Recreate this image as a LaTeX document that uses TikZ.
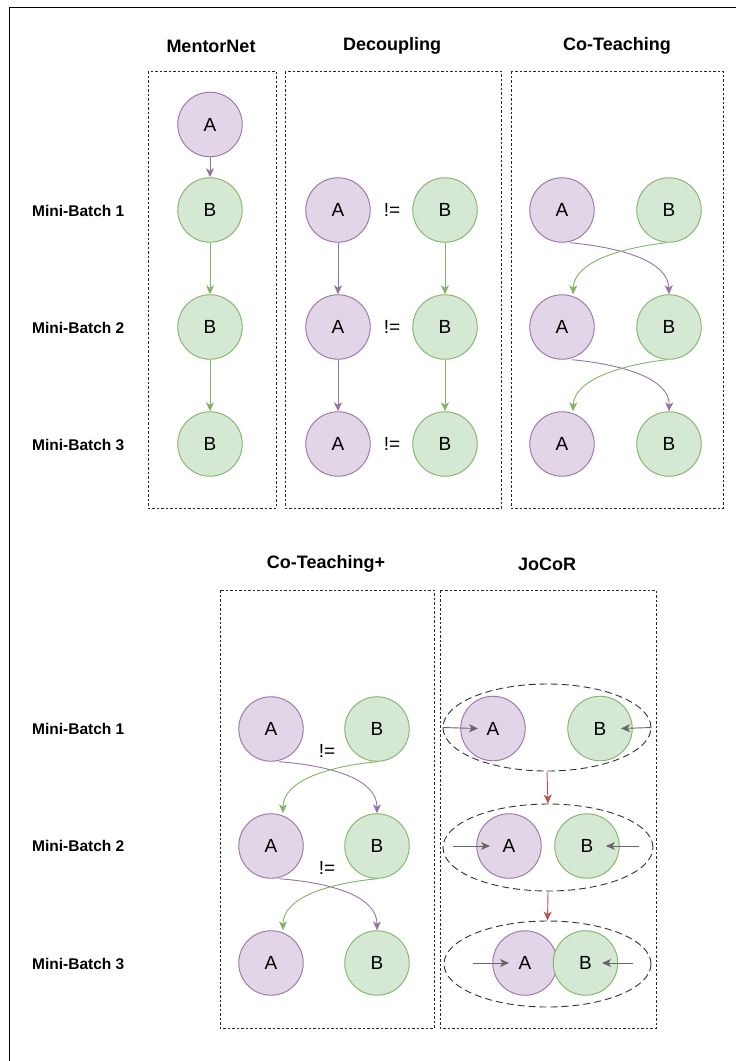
\documentclass[tikz,border=0pt]{standalone}
\usepackage{fontspec}
\setmainfont{Liberation Sans}
\usetikzlibrary{arrows.meta,shapes.geometric}
\definecolor{pfill}{HTML}{E1D5E7}
\definecolor{pline}{HTML}{9673A6}
\definecolor{gfill}{HTML}{D5E8D4}
\definecolor{gline}{HTML}{82B366}
\definecolor{redline}{HTML}{B85450}
\definecolor{grayline}{HTML}{666666}
\tikzset{
  nA/.style={circle, draw=pline, fill=pfill, line width=0.9pt, minimum size=64.5pt, inner sep=0pt, font=\fontsize{19}{21}\selectfont},
  nB/.style={circle, draw=gline, fill=gfill, line width=0.9pt, minimum size=64.5pt, inner sep=0pt, font=\fontsize{19}{21}\selectfont},
  groupbox/.style={draw=black!85, line width=0.8pt, dash pattern=on 2.5pt off 2pt},
  title/.style={font=\fontsize{18}{20}\selectfont\bfseries},
  rowlab/.style={font=\fontsize{15.5}{18}\selectfont\bfseries, anchor=west, inner sep=0pt},
  neq/.style={font=\fontsize{19}{21}\selectfont, inner sep=0pt},
  tip/.style={-{Stealth[length=9pt,width=8pt,inset=2.5pt]}},
  parr/.style={draw=pline, line width=0.9pt, tip},
  garr/.style={draw=gline, line width=0.9pt, tip},
  rarr/.style={draw=redline, line width=0.9pt, tip},
  karr/.style={draw=grayline, line width=0.9pt, tip},
  pair/.style={ellipse, draw=black!80, line width=0.9pt, dash pattern=on 7pt off 4pt, inner sep=0pt},
}
\begin{document}
\begin{tikzpicture}[x=1pt,y=-1pt]
\useasboundingbox (0,0) rectangle (736,1061);
% outer frame (only top and left visible)
\draw[line width=1.3pt] (736,7.5) -- (9.5,7.5) -- (9.5,1061);

% group boxes
\draw[groupbox] (148,71) rectangle (276,508);
\draw[groupbox] (285,71) rectangle (501,508);
\draw[groupbox] (511,71) rectangle (723,508);
\draw[groupbox] (220,590) rectangle (434,1028);
\draw[groupbox] (440,590) rectangle (656,1028);

% titles
\node[title] (tMentor) at (211,46) {MentorNet};
\node[title] (tDec) at (392,46) {Decoupling};
\node[title] (tCo) at (617,46) {Co-Teaching};
\node[title] (tCoP) at (326,564) {Co-Teaching+};
\node[title] (tJo) at (547,564) {JoCoR};

% row labels
\node[rowlab] (l1) at (32,211) {Mini-Batch 1};
\node[rowlab] (l2) at (32,328) {Mini-Batch 2};
\node[rowlab] (l3) at (32,445) {Mini-Batch 3};
\node[rowlab] (l4) at (32,729) {Mini-Batch 1};
\node[rowlab] (l5) at (32,846) {Mini-Batch 2};
\node[rowlab] (l6) at (32,964) {Mini-Batch 3};

% MentorNet
\node[nA] (mA) at (210,124.5) {A};
\node[nB] (mB1) at (210,210) {B};
\node[nB] (mB2) at (210,327) {B};
\node[nB] (mB3) at (210,444) {B};
\draw[parr] (mA) -- (mB1);
\draw[garr] (mB1) -- (mB2);
\draw[garr] (mB2) -- (mB3);

% Decoupling
\node[nA] (dA1) at (338,210) {A};
\node[nA] (dA2) at (338,327) {A};
\node[nA] (dA3) at (338,444) {A};
\node[nB] (dB1) at (445,210) {B};
\node[nB] (dB2) at (445,327) {B};
\node[nB] (dB3) at (445,444) {B};
\node[neq] (dn1) at (392,210) {!=};
\node[neq] (dn2) at (392,327) {!=};
\node[neq] (dn3) at (392,444) {!=};
\draw[parr] (dA1) -- (dA2);
\draw[parr] (dA2) -- (dA3);
\draw[garr] (dB1) -- (dB2);
\draw[garr] (dB2) -- (dB3);

% Co-Teaching
\node[nA] (cA1) at (562,210) {A};
\node[nA] (cA2) at (562,327) {A};
\node[nA] (cA3) at (562,444) {A};
\node[nB] (cB1) at (669,210) {B};
\node[nB] (cB2) at (669,327) {B};
\node[nB] (cB3) at (669,444) {B};
\draw[parr] ([xshift=8pt]cA1.south) .. controls (625,248) and (668,262) .. (cB2.north);
\draw[garr] ([xshift=-2pt]cB1.south) .. controls (620,248) and (574,262) .. ([xshift=11pt]cA2.north);
\draw[parr] ([xshift=10pt]cA2.south) .. controls (627,365) and (670,380) .. (cB3.north);
\draw[garr] ([xshift=-2pt]cB2.south) .. controls (620,365) and (574,380) .. ([xshift=11pt]cA3.north);

% Co-Teaching+
\node[nA] (pA1) at (271,729) {A};
\node[nA] (pA2) at (271,846) {A};
\node[nA] (pA3) at (271,963) {A};
\node[nB] (pB1) at (377,729) {B};
\node[nB] (pB2) at (377,846) {B};
\node[nB] (pB3) at (377,963) {B};
\node[neq] (pn1) at (327,751) {!=};
\node[neq] (pn2) at (327,868) {!=};
\draw[parr] ([xshift=8pt]pA1.south) .. controls (334,766) and (377,780) .. (pB2.north);
\draw[garr] ([xshift=1pt]pB1.south) .. controls (330,766) and (283,780) .. ([xshift=12pt]pA2.north);
\draw[parr] ([xshift=8pt]pA2.south) .. controls (334,883) and (377,897) .. (pB3.north);
\draw[garr] ([xshift=1pt]pB2.south) .. controls (330,883) and (283,897) .. ([xshift=12pt]pA3.north);

% JoCoR
\node[pair, minimum width=208pt, minimum height=87pt] (e1) at (547,727.5) {};
\node[pair, minimum width=210pt, minimum height=87pt] (e2) at (548,847.5) {};
\node[pair, minimum width=207pt, minimum height=86pt] (e3) at (547.5,964) {};
\node[nA] (jA1) at (493,728.5) {A};
\node[nB] (jB1) at (600,728.5) {B};
\node[nA] (jA2) at (509,846) {A};
\node[nB] (jB2) at (587,846) {B};
\node[nA] (jA3) at (525,963) {A};
\node[nB] (jB3) at (585.5,963) {B};
\coordinate (j1l) at (453,846);
\coordinate (j1r) at (639,846);
\coordinate (j3l) at (473,963);
\coordinate (j3r) at (633,963);
\draw[karr] (e1.west) -- ([xshift=-15pt]jA1.center);
\draw[karr] (e1.east) -- ([xshift=21pt]jB1.center);
\draw[karr] (j1l) -- ([xshift=-19pt]jA2.center);
\draw[karr] (j1r) -- ([xshift=19pt]jB2.center);
\draw[karr] (j3l) -- ([xshift=-16pt]jA3.center);
\draw[karr] (j3r) -- ([xshift=16.5pt]jB3.center);
\draw[rarr] (e1.south) -- (e2.north);
\draw[rarr] (e2.south) -- (e3.north);
\end{tikzpicture}
\end{document}
